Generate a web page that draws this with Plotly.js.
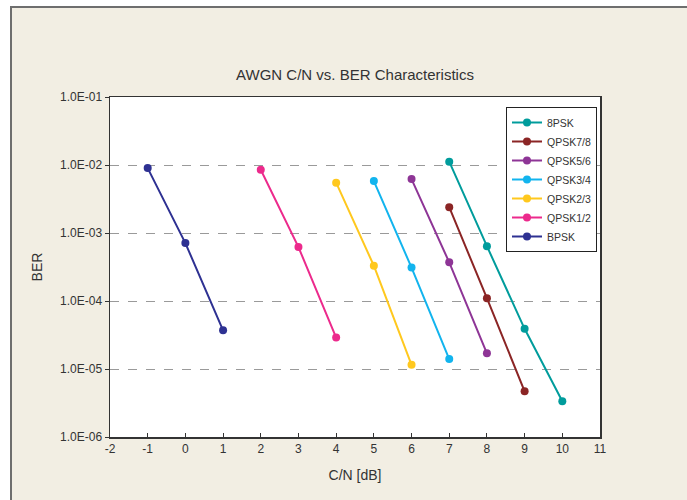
<!DOCTYPE html>
<html>
<head>
<meta charset="utf-8">
<script src="https://cdn.plot.ly/plotly-3.0.1.min.js"></script>
<style>
  html, body { margin: 0; padding: 0; background: #ffffff; }
  #frame { position: absolute; left: 10px; top: 6px; width: 677px; height: 494px;
           background: #f2eee3; border-left: 2px solid #6e6e6e; border-top: 2px solid #6e6e6e; box-sizing: border-box; }
  #chart { position: absolute; left: 0; top: 0; width: 687px; height: 500px; }
</style>
</head>
<body>
<div id="frame"></div>
<div id="chart"></div>
<script>
// Series names (legend order top to bottom)
const seriesNames = ["8PSK", "QPSK7/8", "QPSK5/6", "QPSK3/4", "QPSK2/3", "QPSK1/2", "BPSK"];
const seriesColors = ["#009c9c", "#8b2525", "#8e3596", "#12b4ee", "#ffc81e", "#ec2a8c", "#2e3192"];

// C/N [dB] values per series
const x8PSK    = [7, 8, 9, 10];
const xQPSK78  = [7, 8, 9];
const xQPSK56  = [6, 7, 8];
const xQPSK34  = [5, 6, 7];
const xQPSK23  = [4, 5, 6];
const xQPSK12  = [2, 3, 4];
const xBPSK    = [-1, 0, 1];

// BER values per series
const y8PSK    = [1.12e-2, 6.4e-4, 3.9e-5, 3.35e-6];
const yQPSK78  = [2.4e-3, 1.1e-4, 4.7e-6];
const yQPSK56  = [6.2e-3, 3.7e-4, 1.7e-5];
const yQPSK34  = [5.8e-3, 3.1e-4, 1.4e-5];
const yQPSK23  = [5.5e-3, 3.3e-4, 1.15e-5];
const yQPSK12  = [8.5e-3, 6.2e-4, 2.9e-5];
const yBPSK    = [9.0e-3, 7.1e-4, 3.7e-5];

// Axis ticks
const xTicks = [-2, -1, 0, 1, 2, 3, 4, 5, 6, 7, 8, 9, 10, 11];
const xTickText = ["-2", "-1", "0", "1", "2", "3", "4", "5", "6", "7", "8", "9", "10", "11"];
const yTickVals = [1e-6, 1e-5, 1e-4, 1e-3, 1e-2, 1e-1];
const yTickText = ["1.0E-06", "1.0E-05", "1.0E-04", "1.0E-03", "1.0E-02", "1.0E-01"];

const xs = [x8PSK, xQPSK78, xQPSK56, xQPSK34, xQPSK23, xQPSK12, xBPSK];
const ys = [y8PSK, yQPSK78, yQPSK56, yQPSK34, yQPSK23, yQPSK12, yBPSK];

const data = seriesNames.map((name, i) => ({
  type: "scatter",
  mode: "lines+markers",
  name: name,
  x: xs[i],
  y: ys[i],
  line: { color: seriesColors[i], width: 2 },
  marker: { color: seriesColors[i], size: 8 }
}));

const fontFam = "Liberation Sans, Arial, sans-serif";

const layout = {
  width: 687,
  height: 500,
  paper_bgcolor: "rgba(0,0,0,0)",
  plot_bgcolor: "#ffffff",
  margin: { l: 110, r: 87, t: 97, b: 63 },
  font: { family: fontFam, color: "#333333", size: 12 },
  title: {
    text: "AWGN C/N vs. BER Characteristics",
    font: { family: fontFam, size: 15, color: "#333333" },
    x: 0.5, xref: "paper", xanchor: "center",
    y: 1 - 75 / 500, yref: "container", yanchor: "middle"
  },
  xaxis: {
    range: [-2, 11],
    tickvals: xTicks,
    ticktext: xTickText,
    ticks: "inside",
    ticklen: 4,
    tickcolor: "#333333",
    showline: true,
    linecolor: "#333333",
    linewidth: 1.5,
    mirror: true,
    showgrid: false,
    zeroline: false,
    tickfont: { family: fontFam, size: 12, color: "#333333" },
    title: { text: "C/N [dB]", font: { family: fontFam, size: 14, color: "#333333" }, standoff: 15 }
  },
  yaxis: {
    type: "log",
    range: [-6, -1],
    tickvals: yTickVals,
    ticktext: yTickText,
    ticks: "outside",
    ticklen: 4,
    tickcolor: "#333333",
    showline: true,
    linecolor: "#333333",
    linewidth: 1.5,
    mirror: true,
    showgrid: true,
    gridcolor: "#9a9a9a",
    griddash: "dash",
    gridwidth: 1,
    zeroline: false,
    tickfont: { family: fontFam, size: 12, color: "#333333" },
    title: { text: "BER", font: { family: fontFam, size: 14, color: "#333333" }, standoff: 14 }
  },
  legend: {
    x: (597 - 110) / 490,
    y: (437 - 107) / 340,
    xanchor: "right",
    yanchor: "top",
    bgcolor: "#ffffff",
    bordercolor: "#222222",
    borderwidth: 1,
    font: { family: fontFam, size: 10.5, color: "#333333" },
    itemwidth: 30,
    tracegroupgap: 0
  },
  showlegend: true
};

Plotly.newPlot("chart", data, layout, { displayModeBar: false, staticPlot: true });
</script>
</body>
</html>
